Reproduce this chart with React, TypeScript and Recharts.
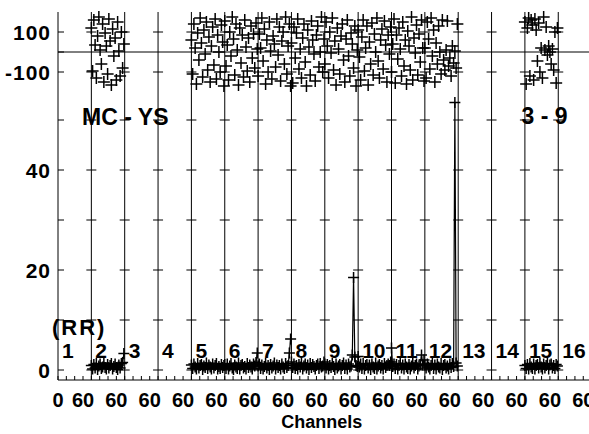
import React from 'react';
import { ComposedChart, Line, Scatter, XAxis, YAxis, ReferenceLine } from 'recharts';

const FONT = '"Liberation Sans", Arial, Helvetica, sans-serif';
const INK = '#000';

// 16 IF windows side by side, each one 80 channel slots wide on the axis
const IF_COUNT = 16;
const IF_SPAN = 80;
const IF_LABEL_CHANNEL = 60;

const channels = [0, 3, 6, 9, 12, 15, 18, 21, 24, 27, 30, 33, 36, 39, 42, 45, 48, 51, 54, 57, 60, 63, 66, 69, 72, 75, 78];
const ifsWithData = [2, 5, 6, 7, 8, 9, 10, 11, 12, 15];

// phase (deg) per IF
const phase2 = [120, -95, 160, 35, -130, 80, 175, 10, -60, 140, -150, 95, 30, -110, 165, 55, -165, 115, -20, 70, -140, 150, 5, -120, 100, -80, 40];
const phase5 = [60, -110, 140, 20, -160, 95, -40, 170, 45, -125, 110, -10, 150, -90, 75, -150, 30, 125, -65, 165, -135, 85, 0, -100, 135, 50, -170];
const phase6 = [155, -70, 35, -140, 100, -20, 175, 65, -115, 140, 10, -165, 120, -55, 85, -125, 160, 25, -95, 70, -150, 130, -30, 90, -80, 145, 15];
const phase7 = [-120, 90, 20, 170, -45, 115, -160, 60, -100, 150, 5, -135, 80, 40, -75, 165, -15, 125, -145, 55, 100, -60, 175, -110, 30, 140, -170];
const phase8 = [45, -155, 125, -30, 95, 165, -85, 15, -130, 70, 140, -50, -170, 110, 25, -115, 155, 60, -10, -145, 85, 130, -75, 0, 175, -100, 65];
const phase9 = [-60, 150, 30, -130, 100, -5, 170, -90, 55, -165, 120, 15, -110, 80, 140, -40, -150, 65, 160, -20, -120, 95, 40, -80, 130, -170, 10];
const phase10 = [110, -25, -140, 75, 160, -95, 20, 130, -165, 50, -60, 145, -115, 90, 0, 170, -45, -130, 60, 115, -85, 155, 35, -150, 85, -10, 125];
const phase11 = [-100, 40, 165, -155, 85, -35, 120, 15, -120, 150, -70, 60, -160, 105, 30, -90, 175, -140, 70, -5, 135, -115, 90, -50, 160, 20, -145];
const phase12 = [20, -130, 150, 65, -85, 170, -20, 110, -150, 45, -60, 130, 0, -110, 160, -40, -90, 10, 155, -70, -30, -120, 30, -55, 5, -80, 140];
const phase15 = [150, -160, 120, 170, -120, 160, 135, -140, 165, 110, -45, 145, -100, 20, -130, 175, 10, 125, -15, 30, 0, -60, 15, -90, 100, -155, 120];

// amplitude per IF
const amp2 = [0.9, 0.2, 1.1, 0.4, 1.3, 0.1, 0.8, 1.2, 0.3, 0.6, 1.4, 0.5, 0.2, 1.1, 0.4, 0.9, 1.3, 0.2, 0.7, 1.2, 0.5, 0.1, 1.0, 0.4, 1.3, 1.5, 3.3];
const amp5 = [1.0, 0.3, 1.2, 0.6, 0.2, 1.3, 0.4, 0.9, 1.1, 0.1, 0.8, 0.5, 1.4, 0.3, 1.0, 0.6, 0.2, 1.2, 0.4, 0.9, 1.3, 0.2, 0.7, 0.3, 1.1, 0.5, 0.9];
const amp6 = [1.1, 0.3, 1.2, 0.2, 0.8, 1.3, 0.4, 0.1, 1.0, 0.6, 0.3, 1.4, 0.2, 0.9, 1.1, 0.4, 0.7, 0.2, 1.3, 0.5, 1.0, 0.6, 0.2, 1.2, 0.8, 1.5, 3.4];
const amp7 = [0.8, 1.2, 0.3, 1.0, 0.2, 0.7, 1.3, 0.4, 0.9, 0.1, 1.1, 0.4, 0.8, 1.4, 0.2, 1.0, 0.5, 0.9, 0.2, 1.2, 0.6, 0.3, 1.3, 0.5, 0.9, 3.4, 6.2];
const amp8 = [1.6, 0.5, 1.2, 0.3, 0.9, 0.2, 1.1, 0.6, 1.4, 0.2, 0.8, 1.2, 0.4, 1.0, 0.1, 1.3, 0.5, 1.1, 0.7, 0.2, 0.9, 1.2, 0.3, 1.3, 0.6, 0.8, 1.6];
const amp9 = [1.2, 0.4, 1.1, 0.2, 0.9, 0.5, 1.3, 0.7, 0.1, 1.2, 0.4, 0.8, 1.1, 0.2, 0.9, 1.4, 0.3, 1.0, 0.2, 1.2, 0.6, 0.8, 3.0, 18.5, 2.6, 0.9, 0.7];
const amp10 = [2.7, 0.6, 1.2, 0.3, 1.3, 0.2, 0.9, 1.1, 0.4, 1.0, 0.1, 1.2, 0.6, 0.3, 1.4, 0.2, 0.8, 1.1, 0.4, 0.9, 0.2, 1.3, 0.5, 0.9, 1.2, 0.9, 1.6];
const amp11 = [4.4, 0.7, 1.2, 0.3, 1.1, 0.2, 0.9, 1.3, 0.4, 1.0, 0.2, 1.2, 0.6, 0.3, 1.1, 0.2, 0.8, 1.4, 0.4, 0.9, 1.2, 0.2, 0.8, 1.1, 3.0, 1.0, 2.0];
const amp12 = [1.0, 0.4, 1.2, 0.6, 0.2, 0.9, 1.3, 0.3, 1.0, 0.2, 1.2, 0.6, 0.4, 1.3, 0.1, 0.9, 1.1, 0.4, 0.8, 0.2, 1.2, 0.5, 1.3, 0.7, 53.5, 1.4, 0.8];
const amp15 = [0.9, 0.3, 1.1, 0.2, 1.3, 0.6, 0.3, 1.2, 0.2, 0.9, 1.1, 0.4, 1.4, 0.6, 0.2, 1.2, 0.4, 0.9, 1.3, 0.2, 1.0, 1.2, 0.4, 0.9, 0.3, 1.1, 0.8];

const phaseByIf = [phase2, phase5, phase6, phase7, phase8, phase9, phase10, phase11, phase12, phase15];
const ampByIf = [amp2, amp5, amp6, amp7, amp8, amp9, amp10, amp11, amp12, amp15];

const phaseTicks = [-100, 0, 100];
const phaseTickLabels = [-100, 100];
const ampTicks = [0, 10, 20, 30, 40, 50];
const ampTickLabels = [0, 20, 40];

const baselineTitle = 'MC - YS';
const timeTitle = '3 - 9';
const polTitle = '(RR)';
const xTitle = 'Channels';

const CHART_W = 600;
const PLOT_LEFT = 58;
const PLOT_RIGHT = 591.6;
const X_MAX = IF_COUNT * IF_SPAN;
const CROSS = 12; // half width of the boundary tick crosses, in channel units

const xMinorTicks = Array.from({ length: X_MAX / 20 + 1 }, (_, i) => i * 20);
const boundaries = Array.from({ length: IF_COUNT - 1 }, (_, i) => (i + 1) * IF_SPAN);
const ifStarts = Array.from({ length: IF_COUNT }, (_, i) => i * IF_SPAN);

const series = ifsWithData.map((n, k) => ({
  n,
  phase: channels.map((c, i) => ({ x: (n - 1) * IF_SPAN + c, y: phaseByIf[k][i] })),
  amp: channels.map((c, i) => ({ x: (n - 1) * IF_SPAN + c, y: ampByIf[k][i] })),
}));

const txt = { fontFamily: FONT, fontWeight: 700, fill: INK } as const;

function Plus({ cx, cy, r, w }: { cx?: number; cy?: number; r: number; w: number }) {
  if (cx == null || cy == null || isNaN(cx) || isNaN(cy)) return <g />;
  return (
    <path
      d={`M${cx - r},${cy}H${cx + r}M${cx},${cy - r}V${cy + r}`}
      stroke={INK}
      strokeWidth={w}
      fill="none"
    />
  );
}

function makeYTick(labels: number[]) {
  return (p: any) => (
    <g>
      <line x1={p.x} x2={p.x + 6} y1={p.y} y2={p.y} stroke={INK} />
      {labels.includes(p.payload.value) && (
        <text x={p.x - 7} y={p.y} dy="0.36em" textAnchor="end" fontSize={21} letterSpacing={1} {...txt}>
          {p.payload.value}
        </text>
      )}
    </g>
  );
}

function XTopTick(p: any) {
  return <line x1={p.x} x2={p.x} y1={p.y} y2={p.y + 4} stroke={INK} />;
}

function XBottomTick(p: any) {
  const v = p.payload.value;
  const label = v === 0 ? '0' : v % IF_SPAN === IF_LABEL_CHANNEL ? String(IF_LABEL_CHANNEL) : '';
  return (
    <g>
      <line x1={p.x} x2={p.x} y1={p.y} y2={p.y - 4} stroke={INK} />
      {label && (
        <text x={p.x} y={p.y + 27} textAnchor="middle" fontSize={20} {...txt}>
          {label}
        </text>
      )}
    </g>
  );
}

function crossTicks(values: number[]) {
  return boundaries.flatMap((b) =>
    values.map((v) => (
      <ReferenceLine
        key={`c-${b}-${v}`}
        segment={[{ x: b - CROSS, y: v }, { x: b + CROSS, y: v }]}
        stroke={INK}
        ifOverflow="visible"
      />
    )),
  );
}

function PhasePanel() {
  return (
    <ComposedChart
      width={CHART_W}
      height={100}
      margin={{ top: 12, right: CHART_W - PLOT_RIGHT, bottom: 8, left: 0 }}
    >
      <XAxis
        xAxisId="top"
        orientation="top"
        type="number"
        dataKey="x"
        domain={[0, X_MAX]}
        ticks={xMinorTicks}
        interval={0}
        height={0}
        tickSize={0}
        tickMargin={0}
        tick={XTopTick}
        stroke={INK}
      />
      <XAxis type="number" dataKey="x" domain={[0, X_MAX]} height={0} tick={false} tickLine={false} stroke={INK} />
      <YAxis
        type="number"
        dataKey="y"
        domain={[-200, 200]}
        ticks={phaseTicks}
        interval={0}
        width={PLOT_LEFT}
        tickSize={0}
        tickMargin={0}
        tick={makeYTick(phaseTickLabels)}
        stroke={INK}
      />
      <ReferenceLine y={0} stroke={INK} />
      {boundaries.map((b) => (
        <ReferenceLine key={`b-${b}`} x={b} stroke={INK} />
      ))}
      {crossTicks(phaseTickLabels)}
      {series.map((s) => (
        <Scatter
          key={`p-${s.n}`}
          data={s.phase}
          dataKey="y"
          shape={(p: any) => <Plus cx={p.cx} cy={p.cy} r={6} w={1.5} />}
          isAnimationActive={false}
        />
      ))}
    </ComposedChart>
  );
}

function AmpPanel() {
  return (
    <ComposedChart
      width={CHART_W}
      height={434}
      margin={{ top: 92, right: CHART_W - PLOT_RIGHT, bottom: 0, left: 0 }}
    >
      <XAxis
        xAxisId="top"
        orientation="top"
        type="number"
        dataKey="x"
        domain={[0, X_MAX]}
        ticks={xMinorTicks}
        interval={0}
        height={0}
        tickSize={0}
        tickMargin={0}
        tick={XTopTick}
        stroke={INK}
      />
      <XAxis
        type="number"
        dataKey="x"
        domain={[0, X_MAX]}
        ticks={xMinorTicks}
        interval={0}
        height={54}
        tickSize={0}
        tickMargin={0}
        tick={XBottomTick}
        stroke={INK}
        label={(p: any) => (
          <text
            x={p.viewBox.x + p.viewBox.width / 2 - 3}
            y={p.viewBox.y + 48}
            textAnchor="middle"
            fontSize={18}
            {...txt}
          >
            {xTitle}
          </text>
        )}
      />
      <YAxis
        type="number"
        dataKey="y"
        domain={[-2, 55.6]}
        ticks={ampTicks}
        interval={0}
        width={PLOT_LEFT}
        tickSize={0}
        tickMargin={0}
        tick={makeYTick(ampTickLabels)}
        allowDataOverflow
        stroke={INK}
      />
      {ifStarts.map((x0, i) => (
        <ReferenceLine
          key={`s-${x0}`}
          x={x0}
          stroke={i === 0 ? 'none' : INK}
          label={(p: any) => (
            <text x={p.viewBox.x + 4} y={p.viewBox.y + p.viewBox.height - 22} fontSize={21} {...txt}>
              {i + 1}
            </text>
          )}
        />
      ))}
      <ReferenceLine
        x={0}
        stroke="none"
        label={(p: any) => (
          <g>
            <text x={p.viewBox.x - 6} y={p.viewBox.y + p.viewBox.height - 45} fontSize={22} letterSpacing={2} {...txt}>
              {polTitle}
            </text>
            <text x={p.viewBox.x + 24} y={p.viewBox.y + 33} fontSize={23} {...txt}>
              {baselineTitle}
            </text>
          </g>
        )}
      />
      <ReferenceLine
        x={X_MAX}
        stroke="none"
        label={(p: any) => (
          <text x={p.viewBox.x - 24} y={p.viewBox.y + 32} textAnchor="end" fontSize={23} {...txt}>
            {timeTitle}
          </text>
        )}
      />
      {crossTicks(ampTicks)}
      {series.map((s) => (
        <Line
          key={`a-${s.n}`}
          data={s.amp}
          dataKey="y"
          type="linear"
          stroke={INK}
          strokeWidth={1.2}
          dot={(p: any) => <Plus key={`d-${s.n}-${p.index}`} cx={p.cx} cy={p.cy} r={5.5} w={1.5} />}
          activeDot={false}
          isAnimationActive={false}
        />
      ))}
    </ComposedChart>
  );
}

export default function App() {
  return (
    <div
      style={{
        position: 'absolute',
        left: 0,
        top: 0,
        width: 589,
        height: 434,
        overflow: 'hidden',
        background: '#fff',
      }}
    >
      <div style={{ position: 'absolute', left: 0, top: 0 }}>
        <PhasePanel />
      </div>
      <div style={{ position: 'absolute', left: 0, top: 0 }}>
        <AmpPanel />
      </div>
    </div>
  );
}
